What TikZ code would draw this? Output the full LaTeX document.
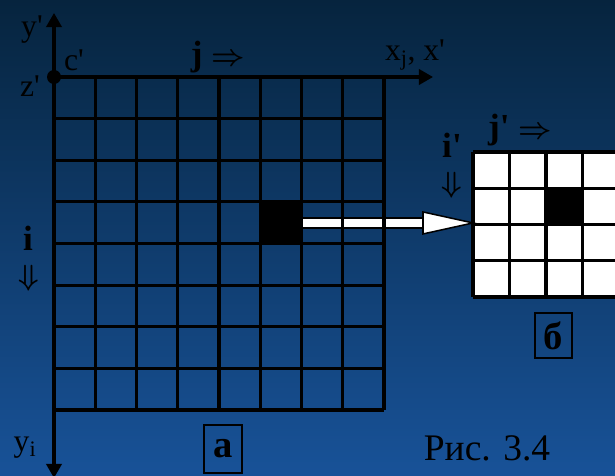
\documentclass[tikz,border=0pt]{standalone}
\usepackage{fontspec}
\setmainfont{Liberation Serif}
\usetikzlibrary{arrows.meta,calc}
\definecolor{bgtop}{RGB}{6,36,62}
\definecolor{bgmid}{RGB}{14,60,112}
\definecolor{bgbot}{RGB}{24,82,152}

\begin{document}
\begin{tikzpicture}[x=0.03cm, y=-0.03cm,
  grd/.style={line width=2.6pt},
  axis/.style={line width=2.6pt, {Triangle[length=12pt,width=13pt]}-{Triangle[length=12pt,width=13pt]}},
  lbl/.style={font=\fontsize{27}{30}\selectfont, inner sep=0pt},
  blbl/.style={font=\fontsize{30}{34}\selectfont\bfseries\boldmath, inner sep=0pt},
  darr/.style={font=\fontsize{36}{40}\selectfont\boldmath, inner sep=0pt},
  tagbox/.style={draw, line width=2.3pt, inner sep=0pt, font=\fontsize{33}{36}\selectfont\bfseries}]
  \useasboundingbox (0,0) rectangle (615,475);
  \clip (0,0) rectangle (615,475);
  \shade[top color=bgtop, middle color=bgmid, bottom color=bgbot] (0,0) rectangle (615,475);

  % cells
  \node[fill=black, inner sep=0pt, minimum width=1.2375cm, minimum height=1.249cm, anchor=north west] (blk) at (260.25,201.9) {};
  \node[fill=white, inner sep=0pt, minimum width=4.38cm, minimum height=4.35cm, anchor=north west] (sg) at (473,152) {};
  \fill (546,188.25) rectangle (582.5,224.5);

  % white arrow
  \coordinate (tip) at (blk.east -| sg.west);
  \draw[line width=9.5pt] (blk.east) -- ($(tip)+(-49,0)$);
  \draw[line width=6.8pt, white] (blk.east) -- ($(tip)+(-48,0)$);

  % grids
  \foreach \k in {0,...,8} {
    \draw[grd] ({54+41.25*\k},77) -- ({54+41.25*\k},410);
    \draw[grd] (54,{77+41.625*\k}) -- (384,{77+41.625*\k});
  }
  \foreach \k in {0,...,4} {
    \draw[grd] ({473+36.5*\k},152) -- ({473+36.5*\k},297);
    \draw[grd] (473,{152+36.25*\k}) -- (619,{152+36.25*\k});
  }
  \filldraw[fill=white, line width=1.3pt, line join=miter] (tip) -- ++(-50,-11) -- ++(0,22) -- cycle;

  % axes
  \node[circle, fill, inner sep=0pt, minimum size=0.42cm] (org) at (54,77) {};
  \coordinate (ytop) at (54,13);
  \coordinate (ybot) at (54,478);
  \coordinate (xend) at (433,77);
  \draw[axis] (ybot) -- (ytop);
  \draw[grd, -{Triangle[length=12pt,width=13pt]}] (org.center) -- (xend);

  % labels
  \node[lbl] (yp) at (32,30) {y\textquotesingle};
  \node[lbl] (cp) at (74,60) {c\textquotesingle};
  \node[lbl] (zp) at (30,86) {z\textquotesingle};
  \node[lbl] (xj) at (415,55) {x\textsubscript{j}, x\textquotesingle};
  \node[lbl] (yi) at (25,448) {y\textsubscript{i}};
  \node[blbl] (jr) at (218,57) {j $\Rightarrow$};
  \node[blbl] (il) at (28,238) {i};
  \node[darr] (id) at (29,278) {$\Downarrow$};
  \node[blbl] (jpr) at (520,130) {j\textquotesingle\ $\Rightarrow$};
  \node[blbl] (ipl) at (452,145) {i\textquotesingle};
  \node[darr] (ipd) at (452,185) {$\Downarrow$};
  \node[tagbox, minimum width=1.14cm, minimum height=1.44cm] (ta) at (223,449) {а};
  \node[tagbox, minimum width=1.11cm, minimum height=1.35cm] (tb) at (553.5,335.5) {б};
  \node[font=\fontsize{32}{36}\selectfont, inner sep=0pt] (cap) at (487,448) {Рис. 3.4};
\end{tikzpicture}
\end{document}
